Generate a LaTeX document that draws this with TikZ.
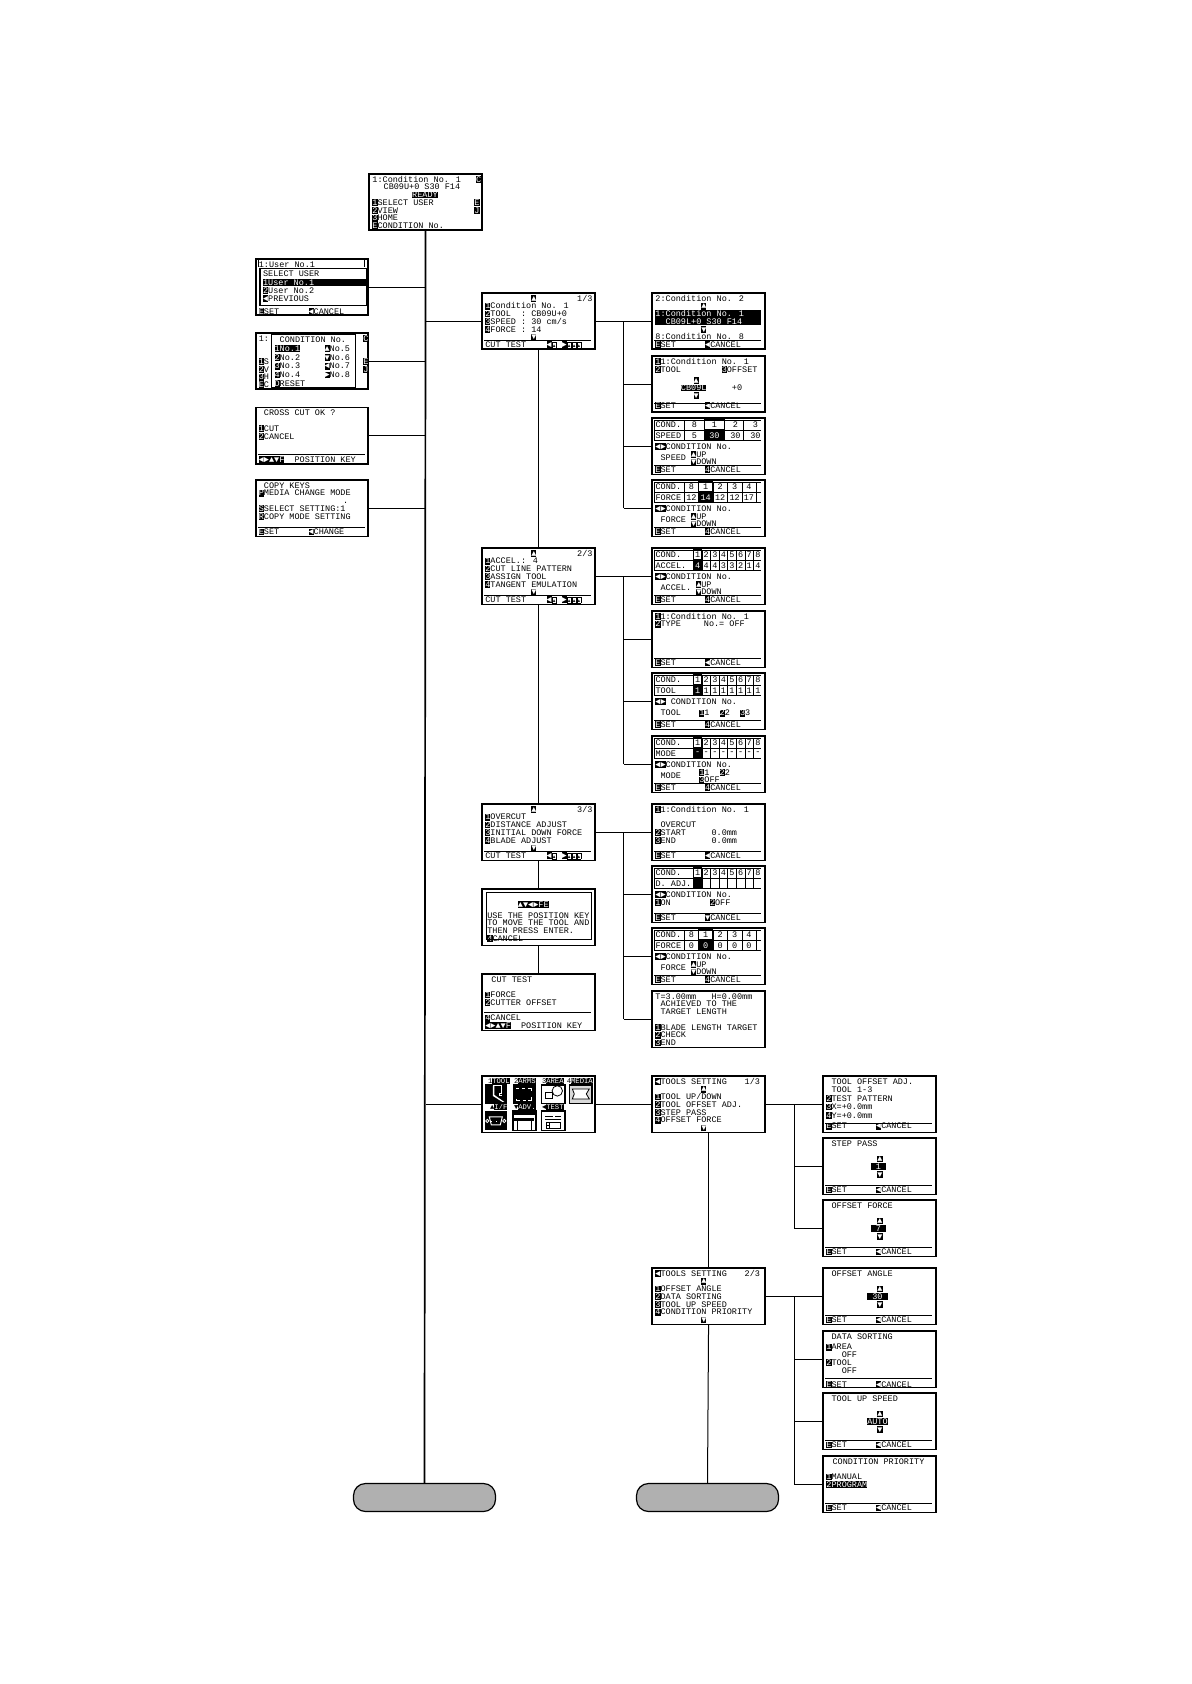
\documentclass[tikz,border=0pt]{standalone}
\usepackage{fontspec}
\usepackage{xcolor}
\usetikzlibrary{positioning}
\newfontfamily\lcdfont{Liberation Mono}

\newdimen\chw \chw=2.55pt
\newcommand{\sk}[1]{\hspace*{#1\chw}}
\newcommand{\wht}[1]{\textcolor{white}{#1}}
\newcommand{\keyb}[1]{{\fboxsep=0pt\colorbox{black}{\rule[-0.35pt]{0pt}{3.4pt}\wht{#1}}}}
\newcommand{\softk}{{\fboxsep=0pt\fboxrule=0.25pt\fbox{\rule{0pt}{2.6pt}\makebox[1.95pt]{\fontsize{2.2}{2.2}\selectfont ▲}}}}
\newcommand{\invrow}[1]{{\fboxsep=0pt\colorbox{black}{\rule[-0.5pt]{0pt}{3.5pt}\makebox[52.6pt][l]{\wht{#1}}}}}
\newcommand{\setrow}[1][◄]{\keyb{E}SET\sk{5.75}\keyb{#1}CANCEL}
\newcommand{\cutrow}{CUT TEST\sk{4}\keyb{◄}\softk\sk{1}\keyb{►}\softk\softk\softk}
\newcommand{\poskey}{\keyb{◄}\keyb{►}\keyb{▲}\keyb{▼}\keyb{F}\sk{2}POSITION KEY}
\newcommand{\lcdtext}[3]{\parbox[c][#1][t]{#2}{\hbox to #2{\vtop{\hsize=200pt\lcdfont\fontsize{4.25}{3.87}\selectfont\leftskip=1.6pt \lineskiplimit=-20pt \rule{0pt}{4.2pt}#3}\hss}}}
\newcommand{\lcdscreen}[3]{\node[screen] (#1) at (#2) {\lcdtext{28.3pt}{56.3pt}{#3}};}
\newcommand{\lcdpopup}[5]{\node[popup] (#1) at (#2) {\lcdtext{#3}{#4}{#5}};}

% condition table: screen, label, rules, marked column
\newcommand{\condgrid}[5]{
  \begin{scope}[shift={(#1.north west)}]
    \fill[black] (#4,13) rectangle (#5,23.5);
    \draw[tabline] (3,3) -- (110,3) (3,13) -- (110,13) (3,23.5) -- (110,23.5) (3,3) -- (3,23.5);
    \foreach \x in #3 {\draw[tabline] (\x,3) -- (\x,23.5);}
    \draw[line width=0.5pt] (#4,3) rectangle (#5,13);
    \node[lcdcell, anchor=west] (#1-cond) at (3.8,8) {COND.};
    \node[lcdcell, anchor=west] (#1-label) at (3.8,18.5) {#2};
  \end{scope}}
\newcommand{\eightcells}[2]{
  \begin{scope}[shift={(#1.north west)}]
    \foreach \v [count=\i] in {#2} {
      \node[lcdcell] (#1-top\i) at (37.6+8.6*\i,8) {\i};
      \node[lcdcell] (#1-val\i) at (37.6+8.6*\i,18.5) {\v};
    }
  \end{scope}}
\newcommand{\widecells}[2]{
  \begin{scope}[shift={(#1.north west)}]
    \foreach \x/\t/\b [count=\i] in {#2} {
      \node[lcdcell] (#1-top\i) at (\x,8) {\t};
      \node[lcdcell] (#1-val\i) at (\x,18.5) {\b};
    }
  \end{scope}}
\def\eightrules{41.9,50.5,59.1,67.7,76.3,84.9,93.5,102.1}
\def\speedrules{32.9,52.9,72.9,91.9}
\def\forcerules{32.9,47.2,61.5,75.9,90.5,104.5}

\tikzset{
  screen/.style={draw, rectangle, line width=0.85pt, fill=white, inner sep=0pt, anchor=north west},
  popup/.style={draw, rectangle, line width=0.6pt, fill=white, inner sep=0pt, anchor=north west},
  exitpill/.style={draw, rectangle, line width=0.6pt, rounded corners=6pt, fill=black!31, minimum width=71pt, minimum height=14pt, inner sep=0pt},
  lcdcell/.style={inner sep=0pt, font=\lcdfont\fontsize{4.25}{4.25}\selectfont},
  icnlabel/.style={inner sep=0pt, font=\lcdfont\fontsize{3.6}{3.6}\selectfont},
  tabline/.style={line width=0.3pt},
  ftline/.style={line width=0.3pt},
  trunk/.style={line width=0.85pt},
  wire/.style={line width=0.5pt}
}

\begin{document}
\begin{tikzpicture}[x=0.5pt, y=-0.5pt]
\useasboundingbox (0.5,1) rectangle (1191.5,1685);

% Home screen
\lcdscreen{home}{368.9,173.9}{1:Condition No. 1\sk{3}\keyb{C}\\\sk{2.2}CB09U+0 S30 F14\\\sk{7.8}\keyb{READY}\\\keyb{1}SELECT USER\sk{8}\keyb{E}\\\keyb{2}VIEW\sk{15}\keyb{J}\\\keyb{3}HOME\\\keyb{E}CONDITION No.}

% Left column
\lcdscreen{usr}{255.3,258.9}{1:User No.1\\\\\\\\\\\\[0.5pt]\setrow}
\lcdpopup{usrpop}{[shift={(4.5,10)}]usr.north west}{18.5pt}{53.3pt}{SELECT USER\\[0.2pt]\invrow{1User No.1}\\[0.2pt]\keyb{2}User No.2\\[0.2pt]\keyb{◄}PREVIOUS}
\draw[wire] ([shift={(4,2)}]usr.north west) -- ([shift={(4,9)}]usr.north west);
\draw[wire] ([shift={(110,2)}]usr.north west) -- ([shift={(110,9)}]usr.north west);

\lcdscreen{cnd}{255.3,332.9}{1:\sk{18.5}\keyb{C}\\\\\\\keyb{1}S\sk{18.5}\keyb{E}\\\keyb{2}V\sk{18.5}\keyb{J}\\\keyb{3}H\\\keyb{E}C}
\lcdpopup{cndpop}{[shift={(16,1.8)}]cnd.north west}{26.6pt}{42pt}{\sk{1}CONDITION No.\\[0.5pt]\keyb{1}\keyb{No.1}\sk{4.8}\keyb{▲}No.5\\[0.5pt]\keyb{2}No.2\sk{4.8}\keyb{▼}No.6\\[0.5pt]\keyb{3}No.3\sk{4.8}\keyb{◄}No.7\\[0.5pt]\keyb{4}No.4\sk{4.8}\keyb{►}No.8\\[0.5pt]\keyb{D}RESET}

\lcdscreen{crs}{255.3,407.6}{\sk{1}CROSS CUT OK ?\\\\\keyb{1}CUT\\\keyb{2}CANCEL\\\\\\\poskey}
\lcdscreen{cpy}{255.3,480}{\sk{1}COPY KEYS\\\keyb{P}MEDIA CHANGE MODE\\\sk{16.5}.\\\keyb{S}SELECT SETTING:1\\\keyb{R}COPY MODE SETTING\\\\\keyb{E}SET\sk{5.75}\keyb{◄}CHANGE}

% Second column
\lcdscreen{pa}{481.8,292.9}{\sk{9}\keyb{▲}\sk{8}1/3\\\keyb{1}Condition No. 1\\\keyb{2}TOOL~~: CB09U+0\\\keyb{3}SPEED : 30 cm/s\\\keyb{4}FORCE : 14\\\sk{9}\keyb{▼}\\\cutrow}
\lcdscreen{pb}{481.8,547.9}{\sk{9}\keyb{▲}\sk{8}2/3\\\keyb{1}ACCEL.: 4\\\keyb{2}CUT LINE PATTERN\\\keyb{3}ASSIGN TOOL\\\keyb{4}TANGENT EMULATION\\\sk{9}\keyb{▼}\\\cutrow}
\lcdscreen{pc}{481.8,803.9}{\sk{9}\keyb{▲}\sk{8}3/3\\\keyb{1}OVERCUT\\\keyb{2}DISTANCE ADJUST\\\keyb{3}INITIAL DOWN FORCE\\\keyb{4}BLADE ADJUST\\\sk{9}\keyb{▼}\\\cutrow}
\lcdscreen{pos}{481.8,888.9}{\\[1.1pt]\sk{6.4}\keyb{▲}\keyb{▼}\keyb{◄}\keyb{►}\keyb{F}\keyb{E}\\[1.6pt]\sk{0.4}USE THE POSITION KEY\\\sk{0.4}TO MOVE THE TOOL AND\\\sk{0.4}THEN PRESS ENTER.\\\sk{0.4}\keyb{4}CANCEL}
\lcdscreen{cut}{481.8,973.9}{\sk{1.2}CUT TEST\\\\\keyb{1}FORCE\\\keyb{2}CUTTER OFFSET\\\\\keyb{4}CANCEL\\\poskey}
\draw[line width=0.5pt] ([shift={(5,5)}]pos.north west) rectangle ([shift={(110,52)}]pos.north west);

% Icon menu
\lcdscreen{icn}{481.8,1075.9}{}
\begin{scope}[shift={(icn.north west)}]
  \foreach \x/\n/\l/\y [count=\i] in {17.5/1/TOOL/6, 43.5/2/ARMS/6, 71.5/3/AREA/6, 98.5/4/MEDIA/6, 17.5/▲/I\slash F/32, 43.5/▼/ADV./32, 71.5/◄/TEST/32} {
    \node[icnlabel] (icnlab\i) at (\x,\y) {\n\keyb{\l}};
  }
  % tool
  \fill[black] (3.5,9.5) rectangle (25.5,29);
  \draw[white, line width=0.5pt] (11.5,11) -- (20,11) -- (20,19) -- (18.5,19) -- (18.5,21) -- (20.5,21);
  \fill[white] (11.5,11) -- (13,11) -- (13,20) -- (23,27) -- (21,27) -- (11.5,21) -- cycle;
  % arms
  \fill[black] (31.5,9.5) rectangle (54.5,29);
  \draw[white, line width=0.5pt] (35,14) -- (38,14) (41,14) -- (44,14) (47,14) -- (50,14) -- (50,16) (35,24) -- (35,26) -- (39,26) (42,26) -- (45,26) (47,26) -- (50,26) -- (50,22);
  % area
  \draw[line width=0.7pt] (60,10) rectangle (83.5,28.5);
  \draw[line width=0.4pt] (64,17) rectangle (71.5,23.5);
  \draw[line width=0.4pt] (76,16) circle (2.6pt);
  % media
  \draw[line width=0.7pt, fill=black!15] (88,10) rectangle (110.5,28.5);
  \draw[line width=0.4pt, fill=white] (91,14) -- (108,14) -- (105,19) -- (108,24) -- (91,24) -- (93,19) -- cycle;
  % interface
  \fill[black] (3.5,36) rectangle (25.5,55.5);
  \draw[white, line width=0.5pt, fill=black] (8,42) -- (21,42) -- (19,50) -- (10,50) -- cycle;
  \draw[white, line width=0.4pt, dotted] (10,46) -- (19,46);
  \draw[white, line width=0.4pt] (6,46) circle (0.8pt) (23,46) circle (0.8pt);
  % device
  \draw[line width=0.7pt] (31.5,36) rectangle (54.5,55.5);
  \fill[black] (31.5,36) rectangle (54.5,40);
  \fill[black] (33,43) rectangle (53,46);
  \draw[line width=0.6pt] (36,46) -- (36,55) (50,46) -- (50,55);
  % test
  \draw[line width=0.7pt] (60,36) rectangle (83.5,55.5);
  \draw[line width=0.4pt] (64,41) -- (72,41) (74,41) -- (80,41) (64,44) -- (80,44);
  \draw[line width=0.4pt] (65,47) rectangle (79,53);
  \draw[line width=0.4pt] (68,47) -- (68,53) (65,50) -- (68,50);
\end{scope}

% Settings of page 1
\lcdscreen{ca}{651.9,292.9}{2:Condition No. 2\\\sk{9}\keyb{▲}\\\invrow{1:Condition No. 1}\\\invrow{\sk{2}CB09L+0 S30 F14}\\\sk{9}\keyb{▼}\\8:Condition No. 8\\\setrow}
\lcdscreen{cb}{651.9,355.9}{\keyb{1}1:Condition No. 1\\[0.3pt]\keyb{2}TOOL\sk{8}\keyb{3}OFFSET\\[1.4pt]\sk{7.5}\keyb{▲}\\\sk{5}\keyb{CB09L}\sk{5}+0\\\sk{7.5}\keyb{▼}\\[0.9pt]\setrow}
\lcdscreen{cc}{651.9,417.9}{\\\\\\\keyb{◄}\keyb{►}CONDITION No.\\\sk{1}\raisebox{-1.9pt}{SPEED}\sk{1}\keyb{▲}UP\\\sk{7}\keyb{▼}DOWN\\\setrow[4]}
\lcdscreen{cd}{651.9,479.9}{\\\\\\\keyb{◄}\keyb{►}CONDITION No.\\\sk{1}\raisebox{-1.9pt}{FORCE}\sk{1}\keyb{▲}UP\\\sk{7}\keyb{▼}DOWN\\\setrow[4]}
\condgrid{cc}{SPEED}{\speedrules}{52.9}{72.9}
\widecells{cc}{43/8/5, 63/1/\wht{30}, 84/2/30, 104/3/30}
\condgrid{cd}{FORCE}{\forcerules}{47.2}{61.5}
\widecells{cd}{40/8/12, 54.3/1/\wht{14}, 68.7/2/12, 83.2/3/12, 97.5/4/17}

% Settings of page 2
\lcdscreen{ce}{651.9,547.9}{\\\\\\\keyb{◄}\keyb{►}CONDITION No.\\\sk{1}\raisebox{-1.9pt}{ACCEL.}\sk{1}\keyb{▲}UP\\\sk{8}\keyb{▼}DOWN\\\setrow[4]}
\lcdscreen{cf}{651.9,610.9}{\keyb{1}1:Condition No. 1\\\keyb{2}TYPE\sk{4.5}No.= OFF\\\\\\\\\\\setrow}
\lcdscreen{cg}{651.9,672.9}{\\\\\\\keyb{◄}\keyb{►} CONDITION No.\\\raisebox{-1.9pt}{\sk{1}TOOL\sk{3.6}\keyb{1}1\sk{2}\keyb{2}2\sk{2}\keyb{3}3}\\\\\setrow[4]}
\lcdscreen{ch}{651.9,735.9}{\\\\\\\keyb{◄}\keyb{►}CONDITION No.\\\sk{1}\raisebox{-1.9pt}{MODE}\sk{3.6}\keyb{1}1\sk{2}\keyb{2}2\\\sk{8.6}\keyb{3}OFF\\\setrow[4]}
\condgrid{ce}{ACCEL.}{\eightrules}{41.9}{50.5}
\eightcells{ce}{\wht{4},4,4,3,3,2,1,4}
\condgrid{cg}{TOOL}{\eightrules}{41.9}{50.5}
\eightcells{cg}{\wht{1},1,1,1,1,1,1,1}
\condgrid{ch}{MODE}{\eightrules}{41.9}{50.5}
\eightcells{ch}{\wht{-},-,-,-,-,-,-,-}

% Settings of page 3
\lcdscreen{ci}{651.9,803.9}{\keyb{1}1:Condition No. 1\\\\\sk{1}OVERCUT\\\keyb{2}START\sk{5}0.0mm\\\keyb{3}END\sk{7}0.0mm\\\\\setrow}
\lcdscreen{cj}{651.9,865.9}{\\\\\\\keyb{◄}\keyb{►}CONDITION No.\\\keyb{1}ON\sk{7.7}\keyb{2}OFF\\\\\setrow[▼]}
\lcdscreen{ck}{651.9,927.9}{\\\\\\\keyb{◄}\keyb{►}CONDITION No.\\\sk{1}\raisebox{-1.9pt}{FORCE}\sk{1}\keyb{▲}UP\\\sk{7}\keyb{▼}DOWN\\\setrow[4]}
\lcdscreen{cl}{651.9,990.9}{T=3.00mm\sk{3}H=0.00mm\\\sk{1}ACHIEVED TO THE\\\sk{1}TARGET LENGTH\\\\\keyb{1}BLADE LENGTH TARGET\\\keyb{2}CHECK\\\keyb{3}END}
\condgrid{cj}{D. ADJ.}{\eightrules}{41.9}{50.5}
\eightcells{cj}{,,,,,,,}
\condgrid{ck}{FORCE}{\forcerules}{47.2}{61.5}
\widecells{ck}{40/8/0, 54.3/1/\wht{0}, 68.7/2/0, 83.2/3/0, 97.5/4/0}

% Tools settings
\lcdscreen{ta}{651.9,1075.9}{\keyb{◄}TOOLS SETTING\sk{3.5}1/3\\\sk{9}\keyb{▲}\\\keyb{1}TOOL UP/DOWN\\\keyb{2}TOOL OFFSET ADJ.\\\keyb{3}STEP PASS\\\keyb{4}OFFSET FORCE\\\sk{9}\keyb{▼}}
\lcdscreen{tb}{651.9,1267.9}{\keyb{◄}TOOLS SETTING\sk{3.5}2/3\\\sk{9}\keyb{▲}\\\keyb{1}OFFSET ANGLE\\\keyb{2}DATA SORTING\\\keyb{3}TOOL UP SPEED\\\keyb{4}CONDITION PRIORITY\\\sk{9}\keyb{▼}}
\lcdscreen{da}{822.9,1075.9}{\sk{1}TOOL OFFSET ADJ.\\[0.4pt]\sk{1}TOOL 1-3\\[0.4pt]\keyb{2}TEST PATTERN\\[0.4pt]\keyb{3}X=+0.0mm\\[0.4pt]\keyb{4}Y=+0.0mm\\[1.4pt]\setrow}
\lcdscreen{db}{822.9,1137.9}{\sk{1}STEP PASS\\\\\sk{10}\keyb{▲}\\\sk{8.7}\keyb{~1~}\\\sk{10}\keyb{▼}\\\\\setrow}
\lcdscreen{dc}{822.9,1199.9}{\sk{1}OFFSET FORCE\\\\\sk{10}\keyb{▲}\\\sk{8.7}\keyb{~7~}\\\sk{10}\keyb{▼}\\\\\setrow}
\lcdscreen{dd}{822.9,1267.9}{\sk{1}OFFSET ANGLE\\\\\sk{10}\keyb{▲}\\\sk{8}\keyb{~30~}\\\sk{10}\keyb{▼}\\\\\setrow}
\lcdscreen{de}{822.9,1330.9}{\sk{1}DATA SORTING\\[1.5pt]\keyb{1}AREA\\\sk{3}OFF\\\keyb{2}TOOL\\\sk{3}OFF\\[-0.6pt]\\\setrow}
\lcdscreen{df}{822.9,1392.9}{\sk{1}TOOL UP SPEED\\\\\sk{10}\keyb{▲}\\\sk{8}\keyb{AUTO}\\\sk{10}\keyb{▼}\\\\\setrow}
\lcdscreen{dg}{822.9,1455.9}{\sk{1.2}CONDITION PRIORITY\\\\\keyb{1}MANUAL\\\keyb{2}\keyb{PROGRAM}\\\\\\\setrow}

% Footer rules
\foreach \s in {ca,cb,cc,cd,ce,cf,cg,ch,ci,cj,ck,da,db,dc,dd,de,df,dg,crs,cpy,pa,pb,pc} {
  \draw[ftline] ([shift={(3,48)}]\s.north west) -- ([shift={(110,48)}]\s.north west);
}
\draw[ftline] ([shift={(3,39.8)}]cut.north west) -- ([shift={(110,39.8)}]cut.north west);

% Bottom exits
\node[exitpill] (exitA) at (425,1498.5) {};
\node[exitpill] (exitB) at (708,1498.5) {};

% Main line
\draw[trunk] (home.south) -- (exitA.north);
\foreach \s in {usr,cnd,crs,cpy} {
  \draw[wire] (\s.east) -- (\s.east -| home.south);
}
\draw[wire] (pa.west) -- (pa.west -| home.south);
\draw[wire] (icn.west) -- (icn.west -| home.south);

% Second column
\draw[wire] (pa.south) -- (pb.north);
\draw[wire] (pb.south) -- (pc.north);
\draw[wire] (pc.south) -- (pos.north);
\draw[wire] (pos.south) -- (cut.north);
\draw[wire] (icn.east) -- (ta.west);
\draw[wire] (ta.south) -- (tb.north);
\draw[wire] (tb.south) -- (exitB.north);

% Branches
\foreach \p/\bus/\first/\last/\others in {pa/busA/ca/cd/{ca,cb,cc,cd}, pb/busB/ce/ch/{ce,cf,cg,ch}, pc/busC/ci/cl/{ci,cj,ck,cl}, ta/busD/da/dc/{da,db,dc}, tb/busE/dd/dg/{dd,de,df,dg}} {
  \path (\p.east) -- (\first.west) coordinate[midway] (\bus);
  \draw[wire] (\p.east) -- (\first.west);
  \draw[wire] (\bus) -- (\bus |- \last.west);
  \foreach \s in \others {
    \draw[wire] (\bus |- \s.west) -- (\s.west);
  }
}
\end{tikzpicture}
\end{document}
